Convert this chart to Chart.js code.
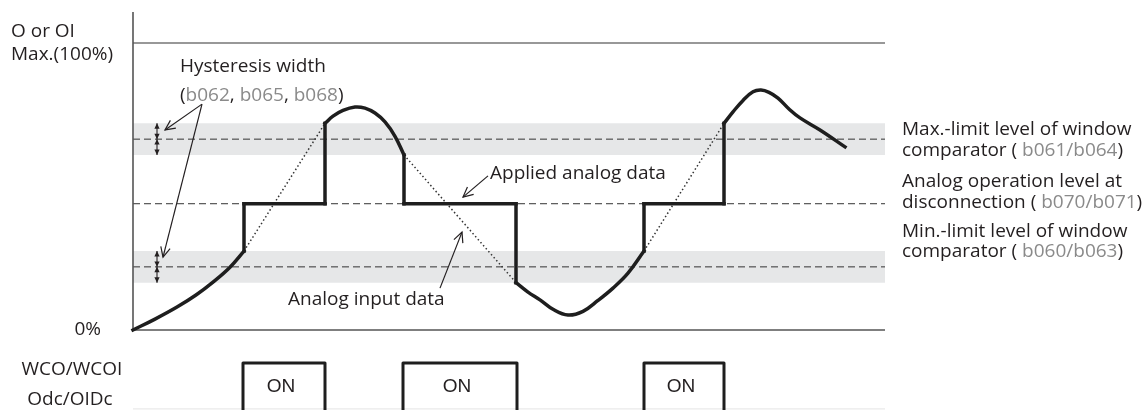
<!DOCTYPE html>
<html>
<head>
<meta charset="utf-8">
<script src="https://cdn.jsdelivr.net/npm/chart.js@4"></script>
<style>
  html, body { margin: 0; padding: 0; background: #fff; }
  canvas { display: block; }
</style>
</head>
<body>
<canvas id="wco" width="1148" height="410"></canvas>
<script>
// time axis runs 0..752, level axis is % of O/OI input (0..100)
const T_END = 752;
const maxLimit = 66.5;
const minLimit = 22;
const disconnectLevel = 44;
const hysteresis = 5.5;

// applied analog data (thick line)
const appliedT = [0, 22, 44, 63, 80, 97, 111, 111, 192, 192, 200, 210, 222, 232, 242, 252, 262, 271,
  271, 383, 383, 395, 407, 420, 435, 450, 465, 480, 495, 511, 511, 591, 591, 600, 610, 620, 628, 636,
  645, 656, 667, 687, 712];
const appliedV = [0, 3.8, 8, 12.2, 16.7, 21.9, 27.5, 44, 44, 72, 74.5, 76.5, 77.7, 77.3, 75.6, 72.5, 67.5, 61,
  44, 44, 16.5, 13.2, 10.5, 7.2, 5.2, 6.5, 10.3, 14.6, 19.8, 27.5, 44, 44, 72, 76, 80, 83, 83.6, 82.8,
  80.8, 77, 73.9, 69.7, 63.8];

// analog input data where it differs from the applied data (dotted)
const inputT = [111, 192, null, 271, 383, null, 511, 591];
const inputV = [27.5, 72, null, 61, 16.5, null, 27.5, 72];

// WCO / Odc output: ON intervals
const onStart = [110, 270, 511];
const onEnd = [192, 384, 591];
const onLevel = -11.5;
const offLevel = -27.5;

const pts = (xs, ys) => xs.map((x, i) => ({ x: x, y: x === null ? null : ys[i] }));
const flat = v => [{ x: 0, y: v }, { x: T_END, y: v }];

// split the applied path at its vertical steps so the curved runs can be smoothed
const appliedRuns = [];
let run = [{ x: appliedT[0], y: appliedV[0] }];
for (let i = 1; i < appliedT.length; i++) {
  const p = { x: appliedT[i], y: appliedV[i] };
  if (appliedT[i] === appliedT[i - 1]) {
    appliedRuns.push(run);
    appliedRuns.push([run[run.length - 1], p]);
    run = [p];
  } else {
    run.push(p);
  }
}
appliedRuns.push(run);

const pulseData = [];
onStart.forEach((s, i) => {
  pulseData.push({ x: s, y: -32 }, { x: s, y: onLevel }, { x: onEnd[i], y: onLevel }, { x: onEnd[i], y: -32 });
  pulseData.push({ x: onEnd[i], y: null });
});

const INK = "#231f20";
const CODE = "#8a8a8a";
const FONT = "'Open Sans', sans-serif";

function arrowHead(ctx, x1, y1, x2, y2, size, filled) {
  const a = Math.atan2(y2 - y1, x2 - x1);
  ctx.beginPath();
  ctx.moveTo(x2 - size * Math.cos(a - 0.45), y2 - size * Math.sin(a - 0.45));
  ctx.lineTo(x2, y2);
  ctx.lineTo(x2 - size * Math.cos(a + 0.45), y2 - size * Math.sin(a + 0.45));
  if (filled) { ctx.closePath(); ctx.fill(); } else ctx.stroke();
}

function runs(ctx, x, y, parts) {
  parts.forEach(p => {
    ctx.fillStyle = p[1] ? CODE : INK;
    ctx.fillText(p[0], x, y);
    x += ctx.measureText(p[0]).width;
  });
}

const notes = {
  id: "notes",
  afterDraw(chart) {
    const ctx = chart.ctx;
    const X = v => chart.scales.x.getPixelForValue(v);
    const Y = v => chart.scales.y.getPixelForValue(v);
    ctx.save();

    // arrows
    ctx.strokeStyle = INK;
    ctx.fillStyle = INK;
    ctx.lineWidth = 1.2;
    const arrows = [
      [69, 78.7, 32, 69.7], [69, 78.7, 30, 25.4],
      [355, 53.7, 330, 46.3], [307, 14.6, 329, 34.1]
    ];
    arrows.forEach(a => {
      ctx.beginPath();
      ctx.moveTo(X(a[0]), Y(a[1]));
      ctx.lineTo(X(a[2]), Y(a[3]));
      ctx.stroke();
      arrowHead(ctx, X(a[0]), Y(a[1]), X(a[2]), Y(a[3]), 11, false);
    });
    // hysteresis width double arrows
    ctx.lineWidth = 1.1;
    [maxLimit, minLimit].forEach(c => {
      [[c, c + hysteresis], [c, c - hysteresis]].forEach(r => {
        const x = X(24), ya = Y(r[0]), yb = Y(r[1]);
        ctx.beginPath(); ctx.moveTo(x, ya); ctx.lineTo(x, yb); ctx.stroke();
        arrowHead(ctx, x, ya, x, yb, 6, true);
        arrowHead(ctx, x, yb, x, ya, 6, true);
      });
    });

    ctx.font = "19px " + FONT;
    ctx.textBaseline = "middle";
    ctx.textAlign = "left";
    ctx.fillStyle = INK;
    ctx.fillText("O or OI", 11, 32);
    ctx.fillText("Max.(100%)", 11, 55);
    ctx.textAlign = "right";
    ctx.fillText("0%", 101, Y(0));
    ctx.textAlign = "center";
    ctx.fillText("WCO/WCOI", 72, 370);
    ctx.fillText("Odc/OIDc", 70, 400);
    ctx.font = "19px 'Liberation Sans', Arial, sans-serif";
    onStart.forEach((s, i) => ctx.fillText("ON", (X(s) + X(onEnd[i])) / 2 - 3, 387));
    ctx.font = "19px " + FONT;

    ctx.textAlign = "left";
    ctx.fillText("Hysteresis width", 180, 67);
    runs(ctx, 180, 96, [["(", 0], ["b062", 1], [", ", 0], ["b065", 1], [", ", 0], ["b068", 1], [")", 0]]);
    ctx.fillText("Applied analog data", 490, 174);
    ctx.fillText("Analog input data", 288, 300);

    const rx = X(T_END) + 17;
    ctx.fillText("Max.-limit level of window", rx, 130);
    runs(ctx, rx, 151, [["comparator ( ", 0], ["b061/b064", 1], [")", 0]]);
    ctx.fillText("Analog operation level at", rx, 182);
    runs(ctx, rx, 203, [["disconnection ( ", 0], ["b070/b071", 1], [")", 0]]);
    ctx.fillText("Min.-limit level of window", rx, 232);
    runs(ctx, rx, 252, [["comparator ( ", 0], ["b060/b063", 1], [")", 0]]);
    ctx.restore();
  }
};

const line = (data, color, width, extra) => Object.assign({
  data: data, showLine: true, borderColor: color, borderWidth: width,
  pointRadius: 0, tension: 0, fill: false, spanGaps: false
}, extra || {});

const appliedSets = appliedRuns.map(r => line(r, "#1e1e1e", 3.5, {
  tension: r.length > 2 ? 0.4 : 0, borderCapStyle: "square", borderJoinStyle: "round"
}));

new Chart(document.getElementById("wco"), {
  type: "scatter",
  data: {
    datasets: appliedSets.concat([
      line(pts(inputT, inputV), "#333", 1.5, { borderDash: [1.5, 2.5] }),
      line(pulseData, "#1e1e1e", 3, { borderJoinStyle: "round" }),
      line([{ x: 0, y: 110.8 }, { x: 0, y: 0 }, { x: T_END, y: 0 }], "#555", 1.6),
      line(flat(100), "#333", 1.2),
      line(flat(offLevel), "#e4e4e4", 1),
      line(flat(maxLimit), "#333", 1, { borderDash: [7, 4] }),
      line(flat(disconnectLevel), "#333", 1, { borderDash: [7, 4] }),
      line(flat(minLimit), "#333", 1, { borderDash: [7, 4] }),
      line(flat(maxLimit + hysteresis), "transparent", 0,
        { fill: { value: maxLimit - hysteresis }, backgroundColor: "#e6e7e8" }),
      line(flat(minLimit + hysteresis), "transparent", 0,
        { fill: { value: minLimit - hysteresis }, backgroundColor: "#e6e7e8" })
    ])
  },
  options: {
    responsive: false,
    animation: false,
    devicePixelRatio: 1,
    layout: { padding: 0 },
    scales: {
      x: { type: "linear", display: false, min: -133, max: 1015 },
      y: { type: "linear", display: false, min: -80 / 2.87, max: 330 / 2.87 }
    },
    plugins: { legend: { display: false }, tooltip: { enabled: false } }
  },
  plugins: [notes]
});
</script>
</body>
</html>
